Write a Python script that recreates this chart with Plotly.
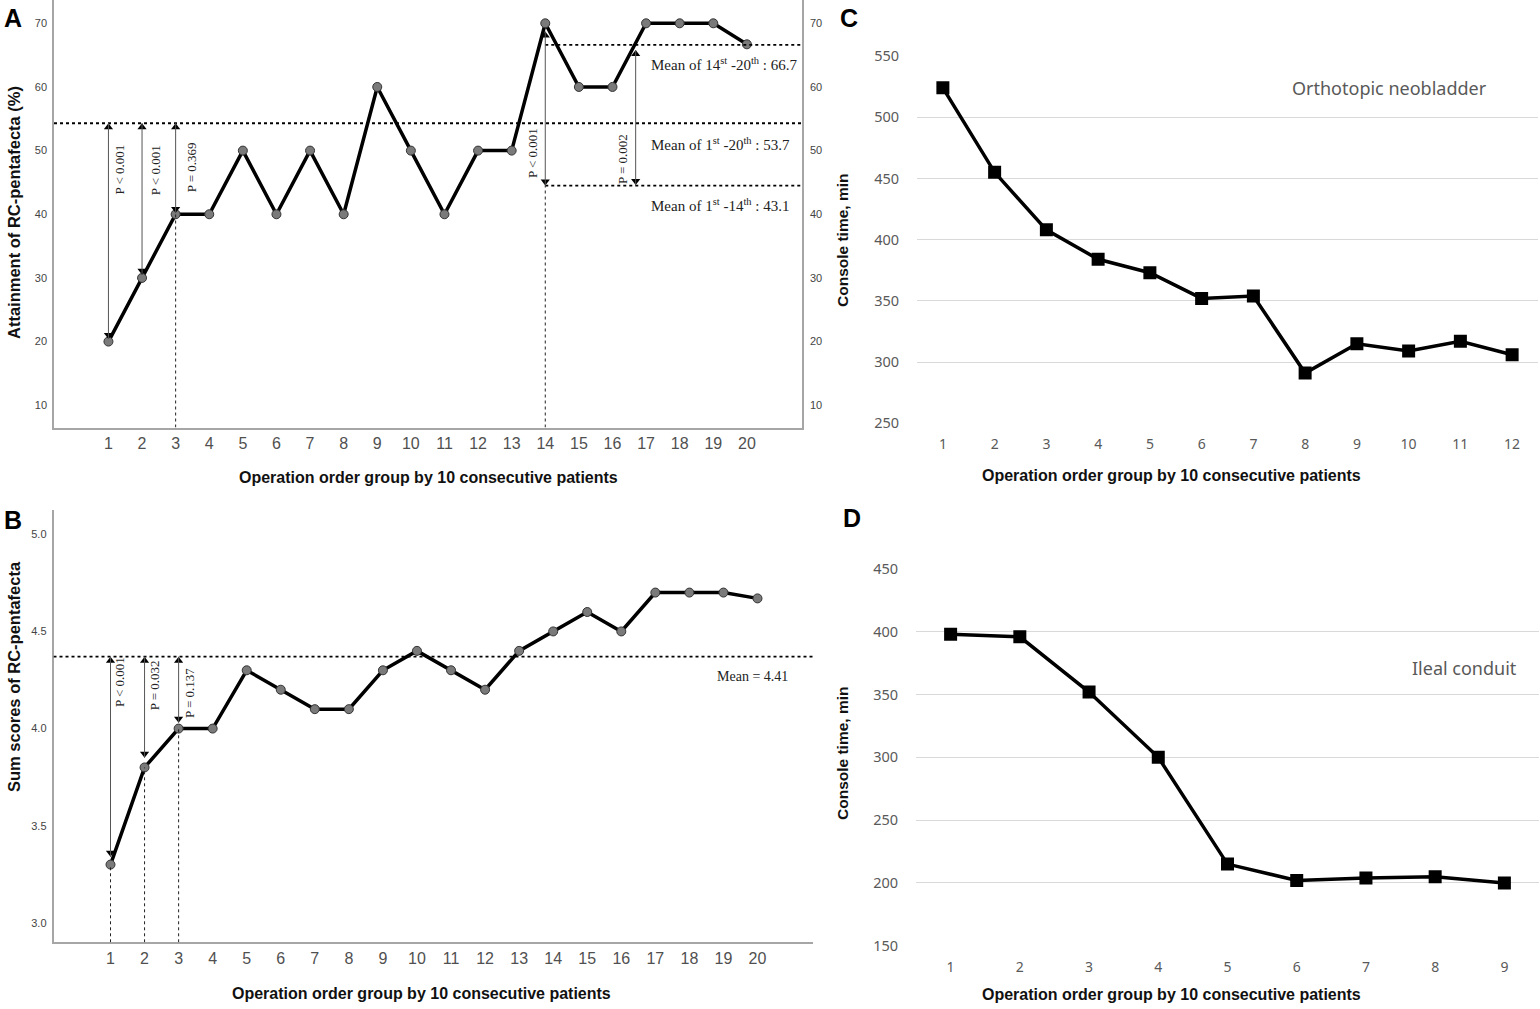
import plotly.graph_objects as go

# ---------------- data ----------------
groups_ab = list(range(1, 21))
pentafecta_pct = [20, 30, 40, 40, 50, 40, 50, 40, 60, 50, 40, 50, 50, 70, 60, 60, 70, 70, 70, 66.7]
sum_scores = [3.3, 3.8, 4.0, 4.0, 4.3, 4.2, 4.1, 4.1, 4.3, 4.4, 4.3, 4.2, 4.4, 4.5, 4.6, 4.5, 4.7, 4.7, 4.7, 4.67]

groups_c = list(range(1, 13))
console_neobladder = [524, 455, 408, 384, 373, 352, 354, 291, 315, 309, 317, 306]
groups_d = list(range(1, 10))
console_ileal = [398, 396, 352, 300, 215, 202, 204, 205, 200]

# mean reference lines (drawn positions) and their labels
mean_a_all, mean_a_late, mean_a_early = 54.3, 66.6, 44.5
mean_a_labels = ["Mean of 14<sup>st</sup> -20<sup>th</sup> : 66.7",
                 "Mean of 1<sup>st</sup> -20<sup>th</sup> : 53.7",
                 "Mean of 1<sup>st</sup> -14<sup>th</sup> : 43.1"]
mean_b = 4.37
mean_b_label = "Mean = 4.41"
p_a = ["P &lt; 0.001", "P &lt; 0.001", "P = 0.369"]
p_a14 = "P &lt; 0.001"
p_a_late = "P = 0.002"
p_b = ["P &lt; 0.001", "P = 0.032", "P = 0.137"]

# comparison arrows: x, upper tip, lower tip
arrows_a = [(1, 54.3, 20.4), (2, 54.3, 30.5), (3, 54.3, 40.2), (14, 68.7, 44.5), (16.69, 65.8, 44.6)]
arrows_b = [(1, 4.37, 3.34), (2, 4.37, 3.85), (3, 4.37, 4.03)]

xtitle = "Operation order group by 10 consecutive patients"

W, H = 1540, 1009
def px(x): return x / W
def py(y): return 1 - y / H

XA = [-0.62, 21.64]
YA = [6.5, 73.66]
XB = [-0.674, 21.63]
YB = [2.90, 5.125]
# pixel scale of the y axes (for arrowhead offsets)
A_PX = 427.5 / (YA[1] - YA[0])
B_PX = (942.3 - 510) / (YB[1] - YB[0])

fig = go.Figure()

# Panel A
fig.add_trace(go.Scatter(x=groups_ab, y=pentafecta_pct, mode="lines+markers",
                         line=dict(color="black", width=3.5),
                         marker=dict(size=9, color="#7a7a7a", line=dict(color="#333", width=1)),
                         xaxis="x", yaxis="y", showlegend=False, hoverinfo="skip"))
fig.add_trace(go.Scatter(x=[None], y=[None], xaxis="x", yaxis="y5", showlegend=False, hoverinfo="skip"))
# Panel B
fig.add_trace(go.Scatter(x=groups_ab, y=sum_scores, mode="lines+markers",
                         line=dict(color="black", width=3.5),
                         marker=dict(size=9, color="#7a7a7a", line=dict(color="#333", width=1)),
                         xaxis="x2", yaxis="y2", showlegend=False, hoverinfo="skip"))
# Panel C
fig.add_trace(go.Scatter(x=groups_c, y=console_neobladder, mode="lines+markers",
                         line=dict(color="black", width=3.5),
                         marker=dict(size=13, symbol="square", color="black"),
                         xaxis="x3", yaxis="y3", showlegend=False, hoverinfo="skip"))
# Panel D
fig.add_trace(go.Scatter(x=groups_d, y=console_ileal, mode="lines+markers",
                         line=dict(color="black", width=3.5),
                         marker=dict(size=13, symbol="square", color="black"),
                         xaxis="x4", yaxis="y4", showlegend=False, hoverinfo="skip"))

# arrowheads
def heads(arrows, pxu, xa, ya):
    off = 4.0 / pxu
    xs, ys, sy = [], [], []
    for x, top, bot in arrows:
        xs += [x, x]
        ys += [top - off, bot + off]
        sy += ["triangle-up", "triangle-down"]
    fig.add_trace(go.Scatter(x=xs, y=ys, mode="markers", marker=dict(symbol=sy, size=8, color="black"),
                             xaxis=xa, yaxis=ya, showlegend=False, hoverinfo="skip"))
heads(arrows_a, A_PX, "x", "y")
heads(arrows_b, B_PX, "x2", "y2")

axcol = "#a6a6a6"
sans = "Liberation Sans, Arial, sans-serif"
light = "Noto Sans, Open Sans, sans-serif"

common_ab_x = dict(tickmode="array", tickvals=groups_ab, ticktext=[str(v) for v in groups_ab],
                   showgrid=False, zeroline=False, showline=True, linecolor=axcol, linewidth=1.5,
                   ticks="outside", ticklen=1, tickcolor="rgba(0,0,0,0)",
                   tickfont=dict(family=sans, size=16, color="#505050"))
ytick_ab = dict(family=sans, size=11, color="#444")

layout = dict(
    width=W, height=H, margin=dict(l=0, r=0, t=0, b=0, pad=0, autoexpand=False),
    paper_bgcolor="white", plot_bgcolor="white",
    xaxis=dict(domain=[px(54), px(802)], range=XA, anchor="y", **common_ab_x),
    yaxis=dict(domain=[py(427.5), 1.0], range=YA, anchor="x", tickvals=[10, 20, 30, 40, 50, 60, 70],
               showgrid=False, zeroline=False, showline=True, linecolor=axcol, linewidth=1.5,
               ticks="outside", ticklen=3, tickcolor="rgba(0,0,0,0)", tickfont=ytick_ab),
    yaxis5=dict(overlaying="y", side="right", anchor="x", range=YA, tickvals=[10, 20, 30, 40, 50, 60, 70],
                showgrid=False, zeroline=False, showline=True, linecolor=axcol, linewidth=1.5,
                ticks="outside", ticklen=4, tickcolor="rgba(0,0,0,0)", tickfont=ytick_ab),
    xaxis2=dict(domain=[px(53.5), px(813)], range=XB, anchor="y2", **common_ab_x),
    yaxis2=dict(domain=[py(942.3), py(510)], range=YB, anchor="x2", tickvals=[3.0, 3.5, 4.0, 4.5, 5.0],
                tickformat=".1f",
                showgrid=False, zeroline=False, showline=True, linecolor=axcol, linewidth=1.5,
                ticks="outside", ticklen=3, tickcolor="rgba(0,0,0,0)", tickfont=ytick_ab),
    xaxis3=dict(domain=[px(917), px(1538)], range=[0.5, 12.5], anchor="y3",
                tickvals=groups_c, showgrid=False, zeroline=False, showline=False,
                ticks="outside", ticklen=8, tickcolor="rgba(0,0,0,0)",
                tickfont=dict(family=light, size=14, color="#595959")),
    yaxis3=dict(domain=[py(423.3), py(56)], range=[250, 550], anchor="x3",
                tickvals=[250, 300, 350, 400, 450, 500, 550],
                showgrid=True, gridcolor="#d9d9d9", gridwidth=1, zeroline=False, showline=False,
                ticks="outside", ticklen=14, tickcolor="rgba(0,0,0,0)",
                tickfont=dict(family=light, size=14.5, color="#595959")),
    xaxis4=dict(domain=[px(916), px(1539)], range=[0.5, 9.5], anchor="y4",
                tickvals=groups_d, showgrid=False, zeroline=False, showline=False,
                ticks="outside", ticklen=8, tickcolor="rgba(0,0,0,0)",
                tickfont=dict(family=light, size=14, color="#595959")),
    yaxis4=dict(domain=[py(945.7), py(569)], range=[150, 450], anchor="x4",
                tickvals=[150, 200, 250, 300, 350, 400, 450],
                showgrid=True, gridcolor="#d9d9d9", gridwidth=1, zeroline=False, showline=False,
                ticks="outside", ticklen=14, tickcolor="rgba(0,0,0,0)",
                tickfont=dict(family=light, size=14.5, color="#595959")),
)
fig.update_layout(**layout)

shapes = []
dot = dict(color="black", width=1.8, dash="dot")
vdot = dict(color="#222", width=1, dash="dot")
arr = dict(color="#555", width=1)
# Panel A mean lines
shapes.append(dict(type="line", xref="x", yref="y", x0=XA[0], x1=XA[1], y0=mean_a_all, y1=mean_a_all, line=dot))
shapes.append(dict(type="line", xref="x", yref="y", x0=14, x1=XA[1], y0=mean_a_late, y1=mean_a_late, line=dot))
shapes.append(dict(type="line", xref="x", yref="y", x0=14, x1=XA[1], y0=mean_a_early, y1=mean_a_early, line=dot))
# Panel A vertical dotted
shapes.append(dict(type="line", xref="x", yref="y", x0=3, x1=3, y0=YA[0], y1=pentafecta_pct[2], line=vdot))
shapes.append(dict(type="line", xref="x", yref="y", x0=14, x1=14, y0=YA[0], y1=mean_a_early, line=vdot))
# Panel B mean line
shapes.append(dict(type="line", xref="x2", yref="y2", x0=XB[0], x1=XB[1], y0=mean_b, y1=mean_b, line=dot))
for i in range(3):
    shapes.append(dict(type="line", xref="x2", yref="y2", x0=groups_ab[i], x1=groups_ab[i],
                       y0=YB[0], y1=sum_scores[i], line=vdot))
# arrow shafts
for x, top, bot in arrows_a:
    shapes.append(dict(type="line", xref="x", yref="y", x0=x, x1=x, y0=bot, y1=top, line=arr))
for x, top, bot in arrows_b:
    shapes.append(dict(type="line", xref="x2", yref="y2", x0=x, x1=x, y0=bot, y1=top, line=arr))
fig.update_layout(shapes=shapes)

ann = []
serif = "Liberation Serif, Times New Roman, serif"
pfont = dict(family=serif, size=13, color="#222")

# Panel A p-values
a_text_x = [1.34, 2.40, 3.48]
a_text_y = [47.0, 47.0, 47.35]
for i in range(3):
    ann.append(dict(xref="x", yref="y", x=a_text_x[i], y=a_text_y[i], text=p_a[i], showarrow=False,
                    textangle=-90, xanchor="center", yanchor="middle", font=pfont))
ann.append(dict(xref="x", yref="y", x=13.6, y=49.6, text=p_a14, showarrow=False, textangle=-90,
                xanchor="center", yanchor="middle", font=pfont))
ann.append(dict(xref="x", yref="y", x=16.32, y=48.7, text=p_a_late, showarrow=False, textangle=-90,
                xanchor="center", yanchor="middle", font=pfont))
for lab, yv in zip(mean_a_labels, [63.56, 51.0, 41.5]):
    ann.append(dict(xref="x", yref="y", x=17.09, y=yv, text=lab, showarrow=False, xanchor="left",
                    yanchor="middle", font=dict(family=serif, size=15, color="#222")))

# Panel B p-values
b_text_x = [1.28, 2.29, 3.32]
b_text_y = [4.24, 4.225, 4.18]
for i in range(3):
    ann.append(dict(xref="x2", yref="y2", x=b_text_x[i], y=b_text_y[i], text=p_b[i], showarrow=False,
                    textangle=-90, xanchor="center", yanchor="middle", font=pfont))
ann.append(dict(xref="x2", yref="y2", x=19.85, y=4.267, text=mean_b_label, showarrow=False,
                xanchor="center", yanchor="middle", font=dict(family=serif, size=14, color="#222")))

def paper_text(x, y, text, size, angle=0, family=sans, color="#111"):
    ann.append(dict(xref="paper", yref="paper", x=px(x), y=py(y), text=text, xanchor="center",
                    yanchor="middle", showarrow=False, textangle=angle,
                    font=dict(family=family, size=size, color=color)))

# Panel C/D inner labels
paper_text(1389, 87.7, "Orthotopic neobladder", 18, family=light, color="#595959")
paper_text(1464, 667.7, "Ileal conduit", 18, family=light, color="#595959")

# Axis titles
paper_text(428, 478, "<b>" + xtitle + "</b>", 16)
paper_text(421, 993, "<b>" + xtitle + "</b>", 16)
paper_text(1171, 475, "<b>" + xtitle + "</b>", 16)
paper_text(1171, 994, "<b>" + xtitle + "</b>", 16)
paper_text(14, 213, "<b>Attainment of RC-pentafecta (%)</b>", 16.5, -90)
paper_text(14, 677, "<b>Sum scores of RC-pentafecta</b>", 16.5, -90)
paper_text(842, 240, "<b>Console time, min</b>", 15.5, -90)
paper_text(842, 753, "<b>Console time, min</b>", 15.5, -90)

# Panel letters
for letter, x, y in [("A", 13, 18), ("B", 13, 520), ("C", 849, 18), ("D", 852, 518)]:
    paper_text(x, y, "<b>" + letter + "</b>", 25, color="black")

fig.update_layout(annotations=ann)
fig.write_html("out.html", config={"displayModeBar": False},
               post_script="document.body.style.margin='0';document.body.style.overflow='hidden';")
